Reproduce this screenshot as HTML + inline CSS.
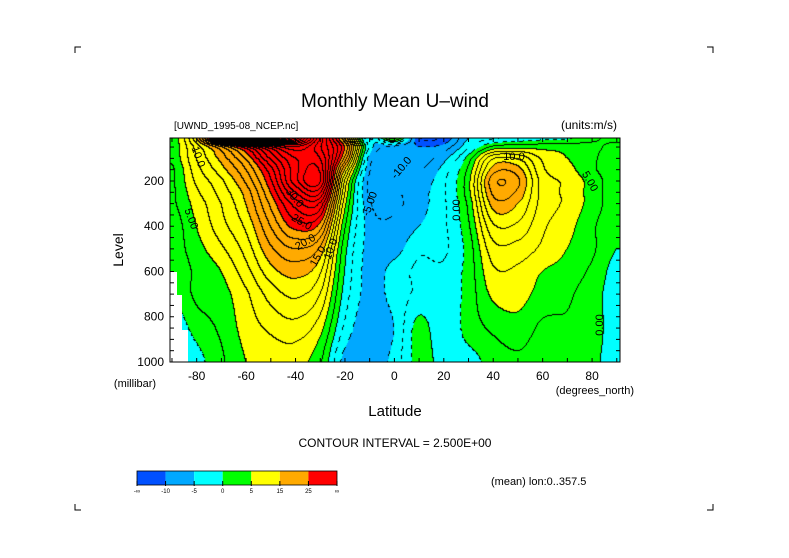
<!DOCTYPE html>
<html><head><meta charset="utf-8">
<style>
body{margin:0;background:#fff;}
#wrap{position:relative;width:789px;height:558px;overflow:hidden;background:#fff;font-family:"Liberation Sans",sans-serif;}
#cv{position:absolute;left:170px;top:138px;}
svg{position:absolute;left:0;top:0;}
text{font-family:"Liberation Sans",sans-serif;fill:#000;}
</style></head>
<body>
<div id="wrap">
<canvas id="cv" width="450" height="224"></canvas>
<svg id="ov" width="789" height="558"></svg>
</div>
<script>
const lats = [-90,-80,-70,-60,-50,-40,-30,-20,-10,0,10,20,30,40,50,60,70,80,90];
const levels = [10,50,100,150,200,250,300,400,500,600,700,850,1000];
// u-wind values: one array per latitude, ordered by levels
const uS90 = [3,3,3,2,2,2,2,1,1,0.5,0,-2,-3];
const uS80 = [15,11,10,9,8,7,6,5,4,3,3,1,-1];
const uS70 = [40,20,16,14,12,11,10,9,7,5,4,3,2];
const uS60 = [60,30,23,20,18,16,15,13,11,9,7,6,5];
const uS50 = [70,40,33,29,27,25,23,20,17,14,11,8,6];
const uS40 = [60,45,40,39,39,35,31,26,20,16,13,9,6];
const uS30 = [40,38,40,42,43,38,32,24,17,13,10,6,3];
const uS20 = [20,25,22,15,10,8,6,3,1,0,-1,-3,-6];
const uS10 = [-5,-3,-6,-7,-8,-8,-7,-6,-6,-6,-6,-7,-7];
const uEQ  = [6,-8,-9,-9,-9,-8,-8,-7,-6,-4,-4,-5,-4];
const uN10 = [-12,-10,-9,-8,-7,-6,-6,-5,-3,-2,-2,1,1];
const uN20 = [-12,-9,-6,-4,-3,-3,-3,-3,-3,-2,-2,-2,-1];
const uN30 = [-5,-3,1,3,4,4,3,2,1,1,1,1,-1];
const uN40 = [-3,3,12,16,19,18,16,12,9,7,5.5,3,1];
const uN50 = [-2,4,12,16,18,17,15,12,9,7,6,4,2];
const uN60 = [-1,4,7,8,9,9,9,8,7,5,4,2,1];
const uN70 = [-0.5,4,5,6,7,7,7,6,5,4,3,2,1];
const uN80 = [2,3,3,3,4,4,4,3,3,2,1,1,0.5];
const uN90 = [3,2,1,1,1,1,1,0.5,0,-1,-1,-1,-1];
const grid = [uS90,uS80,uS70,uS60,uS50,uS40,uS30,uS20,uS10,uEQ,uN10,uN20,uN30,uN40,uN50,uN60,uN70,uN80,uN90];
const bandEdges = [-10,-5,0,5,15,25];
const bandColors = ['#0050ff','#00a8ff','#00ffff','#00ff00','#ffff00','#ffaa00','#ff0000'];
const bandLabels = ['-\u221e','-10','-5','0','5','15','25','\u221e'];
const latTicks = [-80,-60,-40,-20,0,20,40,60,80];
const levTicks = [200,400,600,800,1000];

const X0=170,X1=620,Y0=138,Y1=362;
const latMin=-90.8,latMax=91.3,pTop=10,pBot=1000;
function xOf(lat){return X0+(lat-latMin)/(latMax-latMin)*(X1-X0);}
function yOf(p){return Y0+(p-pTop)/(pBot-pTop)*(Y1-Y0);}
function latOf(x){return latMin+(x-X0)/(X1-X0)*(latMax-latMin);}
function pOf(y){return pTop+(y-Y0)/(Y1-Y0)*(pBot-pTop);}

function cr(p0,p1,p2,p3,t){return 0.5*((2*p1)+(-p0+p2)*t+(2*p0-5*p1+4*p2-p3)*t*t+(-p0+3*p1-3*p2+p3)*t*t*t);}
function gv(i,j){i=Math.max(0,Math.min(lats.length-1,i));j=Math.max(0,Math.min(levels.length-1,j));return grid[i][j];}
function val(lat,p){
  let fi=(lat-lats[0])/10; fi=Math.max(0,Math.min(lats.length-1.0001,fi));
  let fj=0; for(let k=0;k<levels.length-1;k++){ if(p<=levels[k+1]||k==levels.length-2){fj=k+Math.max(0,Math.min(1,(p-levels[k])/(levels[k+1]-levels[k])));break;} }
  const i=Math.floor(fi),j=Math.min(levels.length-2,Math.floor(fj)),ti=fi-i,tj=fj-j;
  const col=[];
  for(let a=-1;a<=2;a++) col.push(cr(gv(i+a,j-1),gv(i+a,j),gv(i+a,j+1),gv(i+a,j+2),tj));
  return cr(col[0],col[1],col[2],col[3],ti);
}
function band(v){let b=0;for(const e of bandEdges){if(v>=e)b++;}return b;}
function hex(c){return [parseInt(c.substr(1,2),16),parseInt(c.substr(3,2),16),parseInt(c.substr(5,2),16)];}
const cv=document.getElementById('cv'),ctx=cv.getContext('2d');
const W=cv.width,H=cv.height,img=ctx.createImageData(W,H);
const V=new Float32Array((W+1)*(H+1));
for(let y=0;y<=H;y++)for(let x=0;x<=W;x++)V[y*(W+1)+x]=val(latOf(X0+x+0.5),pOf(Y0+y+0.5));
const rgb=bandColors.map(hex);
for(let y=0;y<H;y++)for(let x=0;x<W;x++){
  const v=V[y*(W+1)+x];let c=rgb[band(v)];
  const k=Math.floor(v/2.5),kr=Math.floor(V[y*(W+1)+x+1]/2.5),kd=Math.floor(V[(y+1)*(W+1)+x]/2.5);
  if(k!==kr||k!==kd){ if(!(v<0 && ((x+y)>>2)&1)) c=[0,0,0]; }
  const o=(y*W+x)*4;img.data[o]=c[0];img.data[o+1]=c[1];img.data[o+2]=c[2];img.data[o+3]=255;
}
ctx.putImageData(img,0,0);

const NS='http://www.w3.org/2000/svg',ov=document.getElementById('ov');
function mk(tag,attrs,name,txt){const e=document.createElementNS(NS,tag);for(const k in attrs)e.setAttribute(k,attrs[k]);
  
  
  if(txt!==undefined)e.textContent=txt;ov.appendChild(e);return e;}
mk('polygon',{points:'170,272 177,272 177,295 182,295 182,330 188,330 188,362 170,362',fill:'#fff'},'missing-data-region');
mk('rect',{x:X0,y:Y0,width:X1-X0,height:Y1-Y0,fill:'none',stroke:'#000','stroke-width':1},'plot-frame');
for(let lat=-90;lat<=90;lat+=10){const x=xOf(lat);
  mk('line',{x1:x,x2:x,y1:Y1,y2:Y1-4,stroke:'#000'},'x-tick');
  mk('line',{x1:x,x2:x,y1:Y0,y2:Y0+4,stroke:'#000'},'x-tick-top');}
for(let p=50;p<=1000;p+=50){const y=yOf(p);
  mk('line',{x1:X0,x2:X0+4,y1:y,y2:y,stroke:'#000'},'y-tick');
  mk('line',{x1:X1,x2:X1-4,y1:y,y2:y,stroke:'#000'},'y-tick-right');}
latTicks.forEach(l=>mk('text',{x:xOf(l),y:380,'font-size':12,'text-anchor':'middle'},'x-tick-label',String(l)));
levTicks.forEach(p=>mk('text',{x:164,y:yOf(p)+4,'font-size':12,'text-anchor':'end'},'y-tick-label',String(p)));
mk('text',{x:395,y:107,'font-size':19,'text-anchor':'middle'},'chart-title','Monthly Mean U\u2013wind');
mk('text',{x:174,y:129,'font-size':10},'dataset-label','[UWND_1995-08_NCEP.nc]');
mk('text',{x:617,y:129,'font-size':12,'text-anchor':'end'},'units-label','(units:m/s)');
mk('text',{x:123,y:250,'font-size':14,'text-anchor':'middle',transform:'rotate(-90 123 250)'},'y-axis-title','Level');
mk('text',{x:135,y:387,'font-size':11,'text-anchor':'middle'},'y-axis-units','(millibar)');
mk('text',{x:634,y:394,'font-size':11,'text-anchor':'end'},'x-axis-units','(degrees_north)');
mk('text',{x:395,y:416,'font-size':15,'text-anchor':'middle'},'x-axis-title','Latitude');
mk('text',{x:395,y:447,'font-size':12,'text-anchor':'middle'},'contour-interval','CONTOUR INTERVAL = 2.500E+00');
mk('text',{x:491,y:485,'font-size':11},'lon-note','(mean) lon:0..357.5');
const cbx=137,cbw=200/bandColors.length;
bandColors.forEach((c,i)=>mk('rect',{x:cbx+i*cbw,y:471,width:cbw,height:14,fill:c},'colorbar-swatch'));
mk('rect',{x:cbx,y:471,width:200,height:14,fill:'none',stroke:'#000','stroke-width':0.8},'colorbar-frame');
bandLabels.forEach((t,i)=>{mk('line',{x1:cbx+i*cbw,x2:cbx+i*cbw,y1:481,y2:486,stroke:'#000'},'colorbar-tick');
  mk('text',{x:cbx+i*cbw,y:493,'font-size':6,'text-anchor':'middle'},'colorbar-label',t);});
[[75,47,1,1],[713,47,-1,1],[75,510,1,-1],[713,510,-1,-1]].forEach(c=>mk('path',{d:`M${c[0]+6*c[2]} ${c[1]} H${c[0]} V${c[1]+6*c[3]}`,fill:'none',stroke:'#000'},'corner-mark'));
[['10.0',195,158,70],['5.00',188,220,70],['30.0',292,200,50],['25.0',300,225,30],['20.0',307,245,-30],['15.0',321,258,-60],['10.0',334,250,-70],['-5.00',373,205,-70],['-10.0',404,170,-50],['0.00',460,210,-90],['10.0',514,160,0],['5.00',587,183,60],['0.00',603,325,-90]].forEach(l=>
  mk('text',{x:l[1],y:l[2],'font-size':11,'text-anchor':'middle',transform:`rotate(${l[3]} ${l[1]} ${l[2]})`},'contour-label',l[0]));
</script>
</body></html>
